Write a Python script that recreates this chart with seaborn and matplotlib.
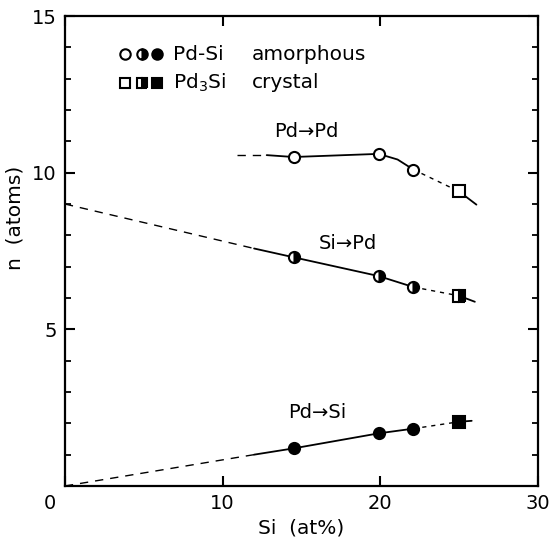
import matplotlib
matplotlib.use('Agg')
import matplotlib.pyplot as plt
import matplotlib.transforms as mtransforms
from matplotlib.ticker import MultipleLocator
import seaborn as sns

sns.set_style('ticks', {'axes.edgecolor': 'black', 'text.color': 'black',
                        'xtick.color': 'black', 'ytick.color': 'black',
                        'axes.labelcolor': 'black'})
plt.rcParams['font.family'] = ['DejaVu Sans']
plt.rcParams['mathtext.fontset'] = 'dejavusans'

# measured points: amorphous Pd-Si and crystalline Pd3Si
si_amorph = [14.5, 19.9, 22.1]
pdpd_amorph = [10.5, 10.6, 10.1]
sipd_amorph = [7.3, 6.7, 6.35]
pdsi_amorph = [1.2, 1.68, 1.83]
si_cryst = [25.0]
pdpd_cryst = [9.4]
sipd_cryst = [6.07]
pdsi_cryst = [2.05]

# guide lines drawn through the points (x, y, line style)
pdpd_guide = [
    ([10.9, 12.8], [10.56, 10.56], 'dash'),
    ([12.8, 14.5, 19.9, 21.1, 22.1], [10.56, 10.5, 10.6, 10.42, 10.1], 'solid'),
    ([22.1, 25.0], [10.1, 9.4], 'dot'),
    ([25.0, 26.1], [9.4, 8.98], 'solid'),
]
sipd_guide = [
    ([0, 12.0], [9.0, 7.58], 'dash'),
    ([12.0, 14.5, 19.9, 22.1], [7.58, 7.3, 6.7, 6.35], 'solid'),
    ([22.1, 25.0], [6.35, 6.07], 'dot'),
    ([25.0, 26.0], [6.07, 5.88], 'solid'),
]
pdsi_guide = [
    ([0, 12.0], [0.0, 1.0], 'dash'),
    ([12.0, 14.5, 19.9, 22.1], [1.0, 1.2, 1.68, 1.83], 'solid'),
    ([22.1, 25.0], [1.83, 2.05], 'dot'),
    ([25.0, 25.8], [2.05, 2.08], 'solid'),
]

curve_labels = ['Pd\u2192Pd', 'Si\u2192Pd', 'Pd\u2192Si']
label_pos = [(15.3, 11.3), (17.95, 7.75), (16.0, 2.35)]

fig = plt.figure(figsize=(5.5, 5.43), dpi=100)
ax = fig.add_axes([0.118, 0.105, 0.86, 0.8655])

dash_styles = {'solid': '', 'dash': (6, 5), 'dot': (3, 3.5)}
for guide in [pdpd_guide, sipd_guide, pdsi_guide]:
    for xs, ys, st in guide:
        sns.lineplot(x=xs, y=ys, ax=ax, color='black', lw=1.3, sort=False,
                     estimator=None, dashes=False, linestyle='-')
        line = ax.lines[-1]
        if st != 'solid':
            line.set_dashes(dash_styles[st])
            line.set_linewidth(1.0)


def marker_kw(fs):
    # open, right-half filled, or full black symbols
    return dict(markerfacecolor='white' if fs == 'none' else 'black',
                markerfacecoloralt='white',
                fillstyle='full' if fs == 'none' else fs,
                markeredgecolor='black', mew=1.5)


fills = ['none', 'right', 'full']
for vals, cvals, fs in zip([pdpd_amorph, sipd_amorph, pdsi_amorph],
                           [pdpd_cryst, sipd_cryst, pdsi_cryst], fills):
    ax.plot(si_amorph, vals, linestyle='none', marker='o', ms=8, zorder=5, **marker_kw(fs))
    ax.plot(si_cryst, cvals, linestyle='none', marker='s', ms=8, zorder=5, **marker_kw(fs))

for txt, (lx, ly) in zip(curve_labels, label_pos):
    ax.text(lx, ly, txt, ha='center', va='center', fontsize=14)

# legend drawn as symbols + text in axes coordinates
leg_x = [0.127, 0.162, 0.194]
for mk, ty, label, kind in [('o', 0.919, 'Pd-Si', 'amorphous'),
                            ('s', 0.858, 'Pd$_3$Si', 'crystal')]:
    for lx, fs in zip(leg_x, fills):
        ax.plot([lx], [ty], transform=ax.transAxes, marker=mk, ms=7.5,
                linestyle='none', clip_on=False, **marker_kw(fs))
    ax.text(0.228, ty, label, transform=ax.transAxes, fontsize=14.5, va='center')
    ax.text(0.395, ty, kind, transform=ax.transAxes, fontsize=14.5, va='center')

ax.set_xlim(0, 30)
ax.set_ylim(0, 15)
ax.set_xticks([0, 10, 20, 30])
ax.set_xticklabels(['0', '10', '20', '30'])
ax.set_yticks([5, 10, 15])
ax.yaxis.set_minor_locator(MultipleLocator(1))
ax.tick_params(axis='both', which='major', direction='in', length=7, width=1.5,
               labelsize=14, top=True, right=True, pad=6)
ax.tick_params(axis='y', which='minor', direction='in', length=4.5, width=1.3, right=True)
for sp in ax.spines.values():
    sp.set_visible(True)
    sp.set_linewidth(1.6)

# shift the shared corner "0" left
offset = mtransforms.ScaledTranslation(-0.15, 0, fig.dpi_scale_trans)
lab0 = ax.get_xticklabels()[0]
lab0.set_transform(lab0.get_transform() + offset)

ax.set_xlabel('Si  (at%)', fontsize=14.5, labelpad=4)
ax.set_ylabel('n  (atoms)', fontsize=14.5)
ax.yaxis.set_label_coords(-0.085, 0.57)

fig.savefig('out.png', dpi=100)
